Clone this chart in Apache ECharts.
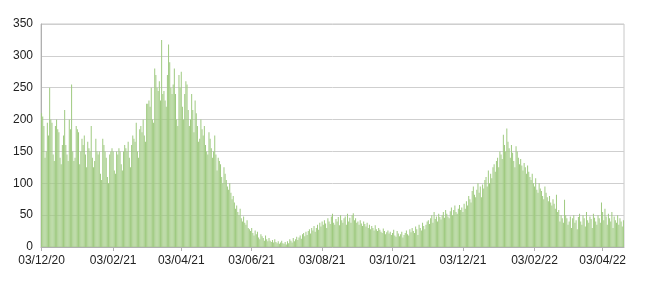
<!DOCTYPE html>
<html><head><meta charset="utf-8">
<script src="https://cdn.jsdelivr.net/npm/echarts@6/dist/echarts.min.js"></script>
<style>html,body{margin:0;padding:0;background:#fff}#c{width:650px;height:285px}</style>
</head><body><div id="c"></div>
<script>
// Daily values, first day 03/12/20
const startDate = [2020, 11, 3];
const dec20 = [210,205,190,140,150,195,175, 250,200,195,145,135,190,200, 185,180,140,130,160,175,215, 160,145,135,200,185,255,150, 135];
const jan21 = [140,190,185,180,130,150,170, 160,175,145,125,165,155,150, 190,140,125,135,170,150,145, 150,115,105,170,160,150,140,110,100,145];
const feb21 = [150,155,150,120,115,150,145, 155,150,130,120,150,160,155, 150,165,140,125,160,175,170, 165,195,150,140,185,190,180];
const mar21 = [200,175,165,225,225,230,220, 250,200,195,280,270,250,245, 260,230,325,240,245,230,220, 270,318,290,250,240,255,280, 240,200,190];
const apr21 = [270,250,275,220,200,240,260, 255,215,190,200,240,215,180, 230,210,190,165,170,200,185, 175,190,160,150,145,180,170, 155,140];
const may21 = [150,175,145,120,140,135,130, 110,100,125,115,105,95,90, 100,85,75,80,70,60,65, 55,50,60,45,40,48,38, 35,42,30];
const jun21 = [28,25,30,22,18,26,20, 24,15,12,20,17,14,10, 18,12,9,14,10,8,11, 7,12,8,6,9,5,7, 10,6];
const jul21 = [5,8,4,9,6,12,10, 7,14,9,12,16,11,15, 18,13,20,22,17,24,19, 25,28,21,30,26,33,24, 30,35,27];
const aug21 = [38,32,40,35,42,37,30, 45,40,36,48,52,38,35, 44,40,47,34,50,42,38, 45,48,35,52,40,46,38, 50,53,42];
const sep21 = [45,38,40,35,42,37,33, 40,36,32,38,30,35,28, 33,30,26,34,28,25,30, 27,24,22,29,25,20,23, 26,21];
const oct21 = [24,19,22,27,18,16,25, 21,17,20,24,15,19,22, 26,20,18,28,23,30,25, 22,32,28,19,35,30,26, 38,33,28];
const nov21 = [35,40,42,36,45,50,38, 55,44,48,40,52,47,43, 50,55,46,58,52,48,45, 56,62,50,58,65,55,52, 60,66];
const dec21 = [58,62,55,68,60,72,65, 80,75,70,88,95,82,78, 90,100,85,95,78,98,92, 105,110,95,120,100,115,108, 125,130,118];
const jan22 = [135,140,125,150,145,138,176, 160,150,186,165,155,140,160, 148,135,125,158,150,140,130, 138,128,120,132,125,115,128, 118,110,105];
const feb22 = [115,100,95,108,90,85,100, 92,88,80,75,95,85,78, 72,80,70,65,75,68,60, 82,55,58,40,50,45,38];
const mar22 = [74,50,45,35,40,48,30, 45,50,38,42,28,47,52, 40,35,50,45,32,55,42, 38,48,44,30,52,46,40, 35,50,45];
const apr22 = [38,70,55,42,60,48,35, 52,45,40,55,30,48,42, 38,50,35,45,40,32,42];
const tickLabels = ['03/12/20','03/02/21','03/04/21','03/06/21','03/08/21','03/10/21','03/12/21','03/02/22','03/04/22'];
const yTicks = [0,50,100,150,200,250,300,350];

const values = [].concat(dec20,jan21,feb21,mar21,apr21,may21,jun21,jul21,aug21,sep21,oct21,nov21,dec21,jan22,feb22,mar22,apr22);
const pad = n => (n<10?'0':'')+n;
const categories = values.map((v,i)=>{
  const d = new Date(Date.UTC(startDate[0],startDate[1],startDate[2]+i));
  return pad(d.getUTCDate())+'/'+pad(d.getUTCMonth()+1)+'/'+pad(d.getUTCFullYear()%100);
});
const showLbl = (i,v)=>tickLabels.indexOf(v)>=0;

const chart = echarts.init(document.getElementById('c'),null,{renderer:'canvas'});
chart.setOption({
  animation:false,
  grid:{left:41,right:26,top:24,bottom:38,show:true,borderColor:'#c8c8c8',borderWidth:1},
  xAxis:{type:'category',data:categories,boundaryGap:true,
    axisLine:{lineStyle:{color:'#b0b0b0'}},
    axisTick:{show:true,alignWithLabel:true,interval:showLbl,length:4,lineStyle:{color:'#b0b0b0'}},
    axisLabel:{interval:showLbl,color:'#222',fontFamily:'Liberation Sans',fontSize:12,margin:8,hideOverlap:false},
    splitLine:{show:false}},
  yAxis:{type:'value',min:yTicks[0],max:yTicks[yTicks.length-1],interval:50,
    axisLine:{show:true,lineStyle:{color:'#b0b0b0'}},axisTick:{show:false},
    axisLabel:{color:'#222',fontFamily:'Liberation Sans',fontSize:12,margin:8},
    splitLine:{lineStyle:{color:'#cfcfcf'}}},
  series:[{type:'bar',data:values,barCategoryGap:'15%',
    itemStyle:{color:'#9fca80'}}]
});
</script></body></html>
